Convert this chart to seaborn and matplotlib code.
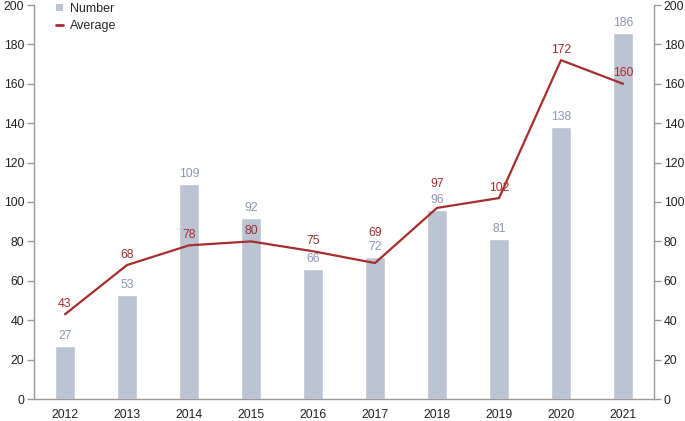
import matplotlib
matplotlib.use("Agg")
import matplotlib.pyplot as plt
from matplotlib.patches import Patch
from matplotlib.lines import Line2D
import seaborn as sns
import pandas as pd

years = ["2012", "2013", "2014", "2015", "2016", "2017", "2018", "2019", "2020", "2021"]
numbers = [27, 53, 109, 92, 66, 72, 96, 81, 138, 186]
averages = [43, 68, 78, 80, 75, 69, 97, 102, 172, 160]

sns.set_theme(style="white")
plt.rcParams['font.family'] = ['Liberation Sans', 'DejaVu Sans']

bar_color = "#bcc3d3"
line_color = "#a62d2d"
num_text = "#8e96b3"
grey = "#999999"
fs = 8.8

df = pd.DataFrame({"Year": years, "Number": numbers, "Average": averages})

fig = plt.figure(figsize=(6.85, 4.21), dpi=100)
ax = fig.add_axes([34 / 685, 22 / 421, 620 / 685, 394 / 421])

sns.barplot(data=df, x="Year", y="Number", color=bar_color, width=0.31,
            saturation=1, ax=ax)
sns.lineplot(x=list(range(len(years))), y=averages, color=line_color, lw=1.6,
             ax=ax, legend=False)

ax.set_xlim(-0.5, len(years) - 0.5)
ax.set_ylim(0, 200)
ax.set_yticks(range(0, 201, 20))
ax.set_xlabel("")
ax.set_ylabel("")

for i, v in enumerate(numbers):
    ax.annotate(str(v), (i, v), xytext=(0, 7.2), textcoords="offset points",
                ha="center", va="center", color=num_text, fontsize=fs)
for i, (a, n) in enumerate(zip(averages, numbers)):
    if abs(a - n) < 8:
        base, off = max(a, n), 17.5
    else:
        base, off = a, 7.5
    ax.annotate(str(a), (i, base), xytext=(0, off), textcoords="offset points",
                ha="center", va="center", color=line_color, fontsize=fs)

ax.spines["top"].set_visible(False)
for s in ["left", "right", "bottom"]:
    ax.spines[s].set_visible(True)
    ax.spines[s].set_color(grey)
    ax.spines[s].set_linewidth(1.0)

ax.tick_params(axis="y", which="both", left=True, right=True, labelleft=True,
               labelright=True, length=5, width=1, color=grey, labelsize=fs,
               labelcolor="#222222", pad=2)
ax.tick_params(axis="x", bottom=False, length=0, labelsize=fs,
               labelcolor="#222222", pad=7.5)

handles = [Patch(facecolor=bar_color, edgecolor="none", label="Number"),
           Line2D([0], [0], color=line_color, lw=2, label="Average")]
fig.legend(handles=handles, loc="upper left",
           bbox_to_anchor=(56 / 685, 1 - 3 / 421), frameon=False,
           fontsize=9, handlelength=0.55, handleheight=0.55, handletextpad=0.6,
           labelspacing=0.4, borderpad=0, borderaxespad=0)

fig.savefig("out.png", dpi=100)
